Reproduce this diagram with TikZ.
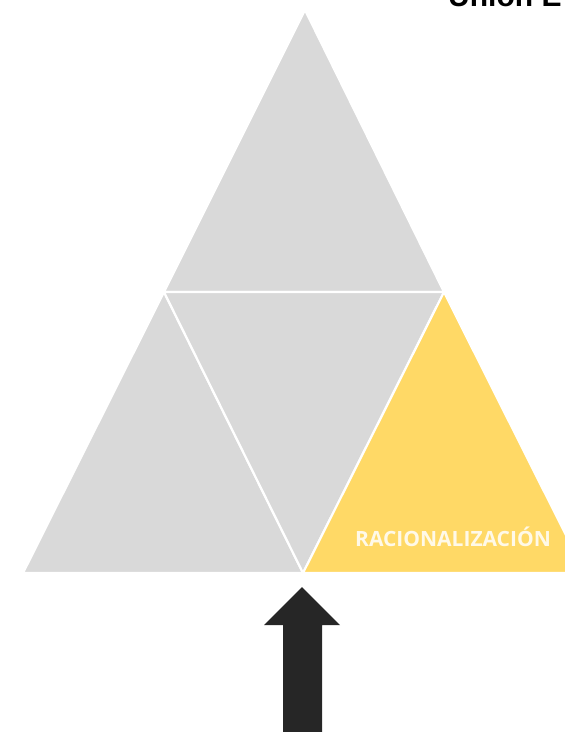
\documentclass[tikz,border=0pt]{standalone}
\usepackage{fontspec}
\setmainfont{Liberation Sans}
\newfontfamily\opensans{Open Sans}
\begin{document}
\begin{tikzpicture}[x=1pt,y=-1pt,
  graytri/.style={fill=triGray,draw=white,line width=2.2pt,line join=round},
  yellowtri/.style={fill=triYellow,draw=white,line width=2.2pt,line join=round},
  arrowshape/.style={fill=arrowDark,draw=none}]
\definecolor{triGray}{HTML}{D9D9D9}
\definecolor{triYellow}{HTML}{FFD966}
\definecolor{arrowDark}{HTML}{262626}
\useasboundingbox (0,0) rectangle (565,732);
\clip (0,0) rectangle (565,732);
\coordinate (A) at (305,10);
\coordinate (L) at (164,292);
\coordinate (R) at (444,292);
\coordinate (BL) at (23,573);
\coordinate (BM) at (303,573);
\coordinate (BR) at (585,573);
\draw[graytri] (A) -- (L) -- (R) -- cycle;
\draw[graytri] (L) -- (BL) -- (BM) -- cycle;
\draw[graytri] (L) -- (R) -- (BM) -- cycle;
\draw[yellowtri] (R) -- (BM) -- (BR) -- cycle;
\node[text=white,text opacity=0.85,font=\opensans\bfseries\fontsize{21}{23}\selectfont,anchor=base] (rac) at (453,546) {RACIONALIZACIÓN};
\node[text=black,font=\bfseries\fontsize{30}{32}\selectfont,anchor=base west,inner sep=0pt] (title) at (448,6) {Unión E};
\fill[arrowshape] (302,587) -- (340,625) -- (322,625) -- (322,740) -- (283,740) -- (283,625) -- (264,625) -- cycle;
\end{tikzpicture}
\end{document}
